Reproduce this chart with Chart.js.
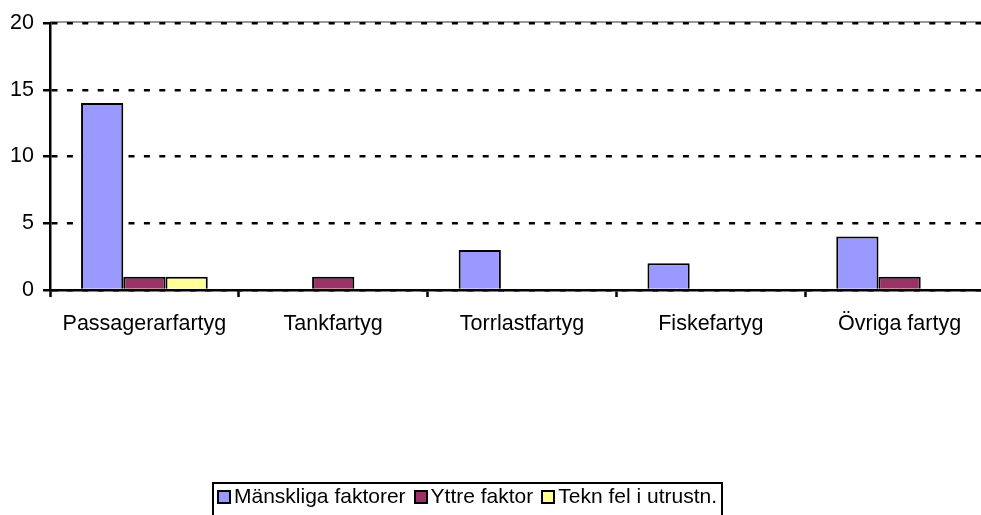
<!DOCTYPE html>
<html>
<head>
<meta charset="utf-8">
<script src="https://cdn.jsdelivr.net/npm/chart.js@4.4.1/dist/chart.umd.min.js"></script>
<style>
  html, body { margin: 0; padding: 0; background: #fff; overflow: hidden; width: 981px; height: 515px; }
  #wrap { position: absolute; left: 0; top: 0; width: 1004px; height: 515px; }
  #legend {
    position: absolute; left: 212px; top: 482px; height: 60px;
    border: 2px solid #000; border-bottom: none;
    padding: 0 4px 0 3px; display: flex; align-items: flex-start;
    font-family: "Liberation Sans", Arial, sans-serif; font-size: 21px; color: #000;
  }
  .item { display: flex; align-items: center; line-height: 24px; margin-right: 8px; white-space: nowrap; }
  .item:last-child { margin-right: 0; }
  .box { width: 14px; height: 14px; box-sizing: border-box; border: 2px solid #000; margin-right: 3px; position: relative; top: 1px; }
</style>
</head>
<body>
<div id="wrap"><canvas id="chart"></canvas></div>
<div id="legend"></div>
<script>
const categories = ['Passagerarfartyg', 'Tankfartyg', 'Torrlastfartyg', 'Fiskefartyg', 'Övriga fartyg'];
const seriesNames = ['Mänskliga faktorer', 'Yttre faktor', 'Tekn fel i utrustn.'];
const manskliga = [14, 0, 3, 2, 4];
const yttre = [1, 1, 0, 0, 1];
const tekn = [1, 0, 0, 0, 0];
const yTicks = [0, 5, 10, 15, 20];
const colors = ['#9999FF', '#993366', '#FFFF99'];

const font = { family: '"Liberation Sans", Arial, sans-serif', size: 21.5 };

// grå linje längst upp i diagramytan, under de streckade linjerna
const topLine = {
  id: 'topLine',
  beforeDraw(chart) {
    const { ctx, chartArea } = chart;
    ctx.save();
    ctx.strokeStyle = '#999';
    ctx.lineWidth = 2;
    ctx.beginPath();
    ctx.moveTo(chartArea.left, chartArea.top - 1);
    ctx.lineTo(chartArea.right, chartArea.top - 1);
    ctx.stroke();
    ctx.restore();
  }
};

const chart = new Chart(document.getElementById('chart'), {
  type: 'bar',
  data: {
    labels: categories,
    datasets: [manskliga, yttre, tekn].map((d, i) => ({
      label: seriesNames[i],
      data: d,
      backgroundColor: colors[i],
      borderColor: '#000',
      borderWidth: 2,
      categoryPercentage: 0.671,
      barPercentage: 1
    }))
  },
  options: {
    responsive: true,
    maintainAspectRatio: false,
    animation: false,
    layout: { padding: { top: 23, right: 10, left: 0, bottom: 0 } },
    plugins: { legend: { display: false }, tooltip: { enabled: false } },
    scales: {
      x: {
        afterFit: s => { s.height = 225; },
        ticks: { font, color: '#000', padding: 14, maxRotation: 0, autoSkip: false },
        grid: { offset: true, drawOnChartArea: false, drawTicks: true, tickLength: 7, tickColor: '#000', tickWidth: 2.5 },
        border: { color: '#000', width: 2.5 }
      },
      y: {
        min: 0, max: 20,
        afterFit: s => { s.width = 50; },
        afterBuildTicks: s => { s.ticks = yTicks.map(v => ({ value: v })); },
        ticks: { font, color: '#000', padding: 9 },
        grid: { color: '#000', lineWidth: 2.5, tickLength: 7, tickColor: '#000', tickWidth: 2.5, tickBorderDash: [] },
        border: { color: '#000', width: 2.5, dash: [6, 9.4] }
      }
    }
  },
  plugins: [topLine]
});

const legendEl = document.getElementById('legend');
legendEl.innerHTML = chart.data.datasets.map(ds =>
  `<div class="item"><span class="box" style="background:${ds.backgroundColor}"></span>${ds.label}</div>`
).join('');
</script>
</body>
</html>
